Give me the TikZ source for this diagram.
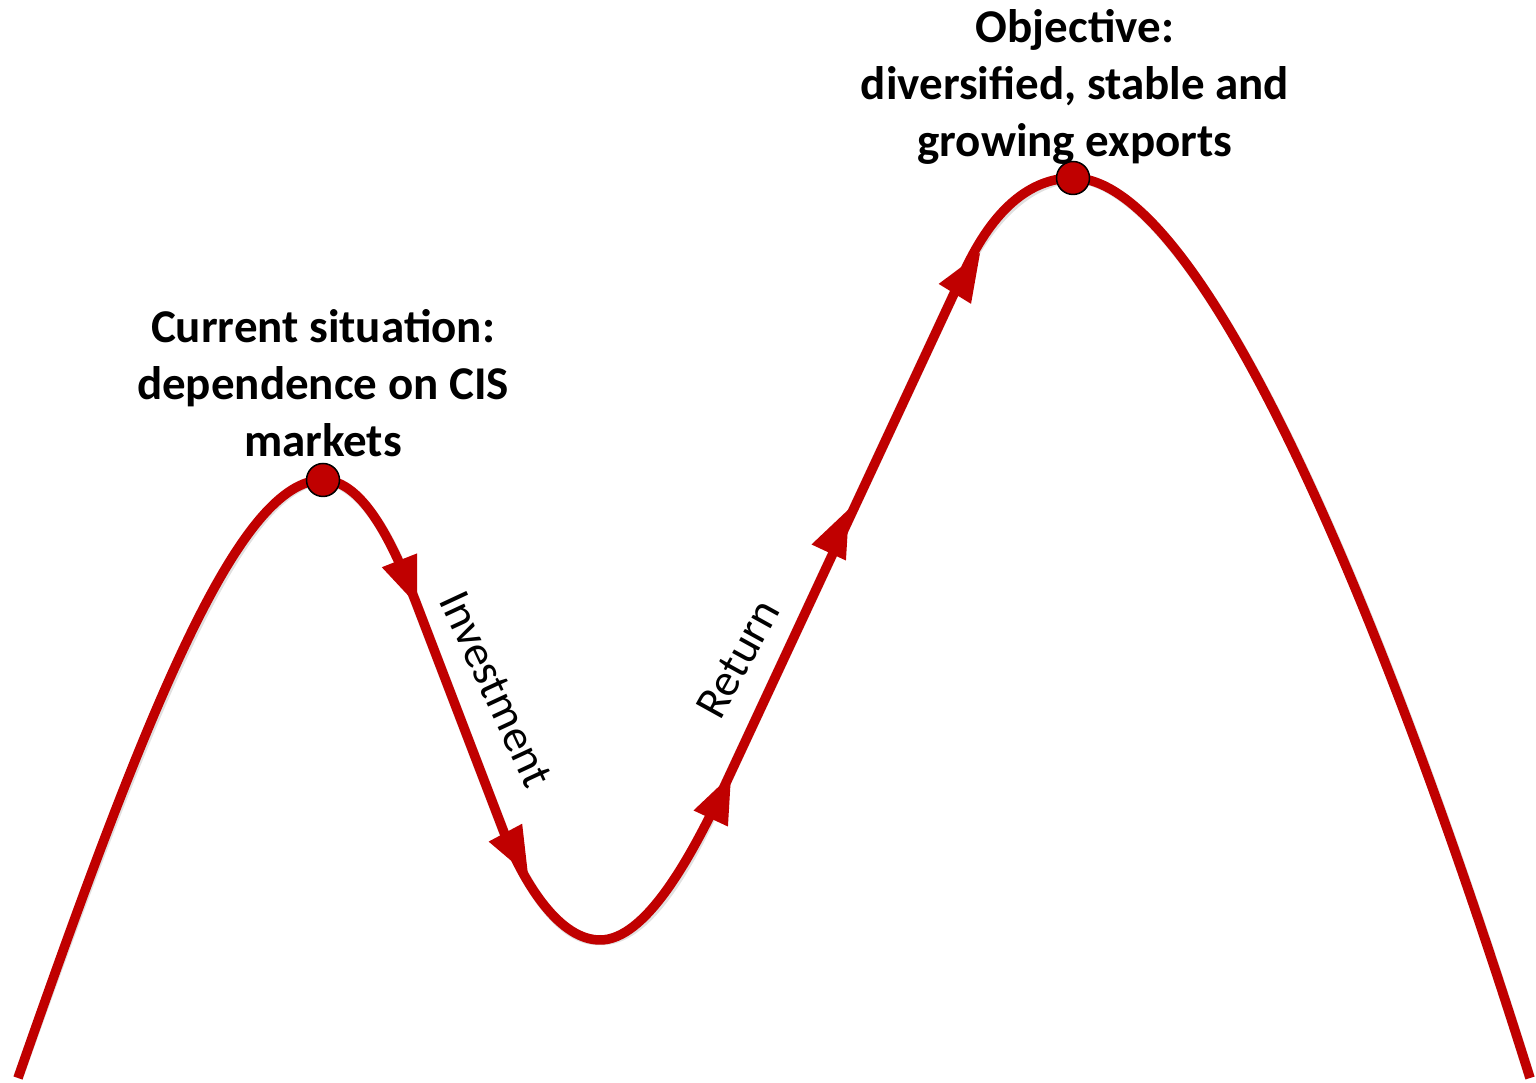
\documentclass[tikz,border=0pt]{standalone}
\usepackage{fontspec}
\setmainfont{Carlito}
\definecolor{cred}{HTML}{C00000}
\newcommand\ahd[3]{\fill[cred, shift={(#1,#2)}, rotate=#3] (0,0) -- (-48,19) -- (-48,-19) -- cycle;}
\begin{document}
\begin{tikzpicture}[x=1pt,y=1pt,
  curve/.style={draw=cred, line width=9.5pt, line join=round},
  shade/.style={draw=black!12, line width=10pt, line join=round},
  dot/.style={circle, fill=cred, draw=black, line width=1.5pt, minimum size=33pt, inner sep=0pt},
  lab/.style={align=center, font=\fontsize{47}{57}\selectfont\bfseries},
  slab/.style={font=\fontsize{46}{56}\selectfont}]
\useasboundingbox (0,0) rectangle (1536,1083);
\coordinate (s) at (18,5);
\coordinate (p1) at (323,603);
\coordinate (a) at (415,483);
\coordinate (b) at (505,248);
\coordinate (t) at (600,143);
\coordinate (c) at (725,298);
\coordinate (d) at (965,813);
\coordinate (p2) at (1073,905);
\coordinate (e) at (1530,5);
\path[shade, shift={(2,-3)}] (s) .. controls (150,383) and (240,603) .. (p1)
  .. controls (365,603) and (395,533) .. (a) -- (b)
  .. controls (525,198) and (560,143) .. (t)
  .. controls (645,143) and (690,223) .. (c) -- (d)
  .. controls (993,873) and (1030,905) .. (p2)
  .. controls (1200,905) and (1380,483) .. (e);
\path[curve] (s) .. controls (150,383) and (240,603) .. (p1)
  .. controls (365,603) and (395,533) .. (a) -- (b)
  .. controls (525,198) and (560,143) .. (t)
  .. controls (645,143) and (690,223) .. (c) -- (d)
  .. controls (993,873) and (1030,905) .. (p2)
  .. controls (1200,905) and (1380,483) .. (e);
\ahd{417}{478}{-68.6}
\ahd{528}{208}{-61.9}
\ahd{731}{308}{65}
\ahd{849}{574}{65}
\ahd{980}{830}{58.4}
\node[dot] (d1) at (p1) {};
\node[dot] (d2) at (p2) {};
\node[lab] (cur) at (323,700) {Current situation:\\dependence on CIS\\markets};
\node[lab] (obj) at (1075,996) {Objective:\\diversified, stable and\\growing exports};
\node[slab, rotate=-65] (inv) at (496,394) {Investment};
\node[slab, rotate=61] (ret) at (738,424) {Return};
\end{tikzpicture}
\end{document}
